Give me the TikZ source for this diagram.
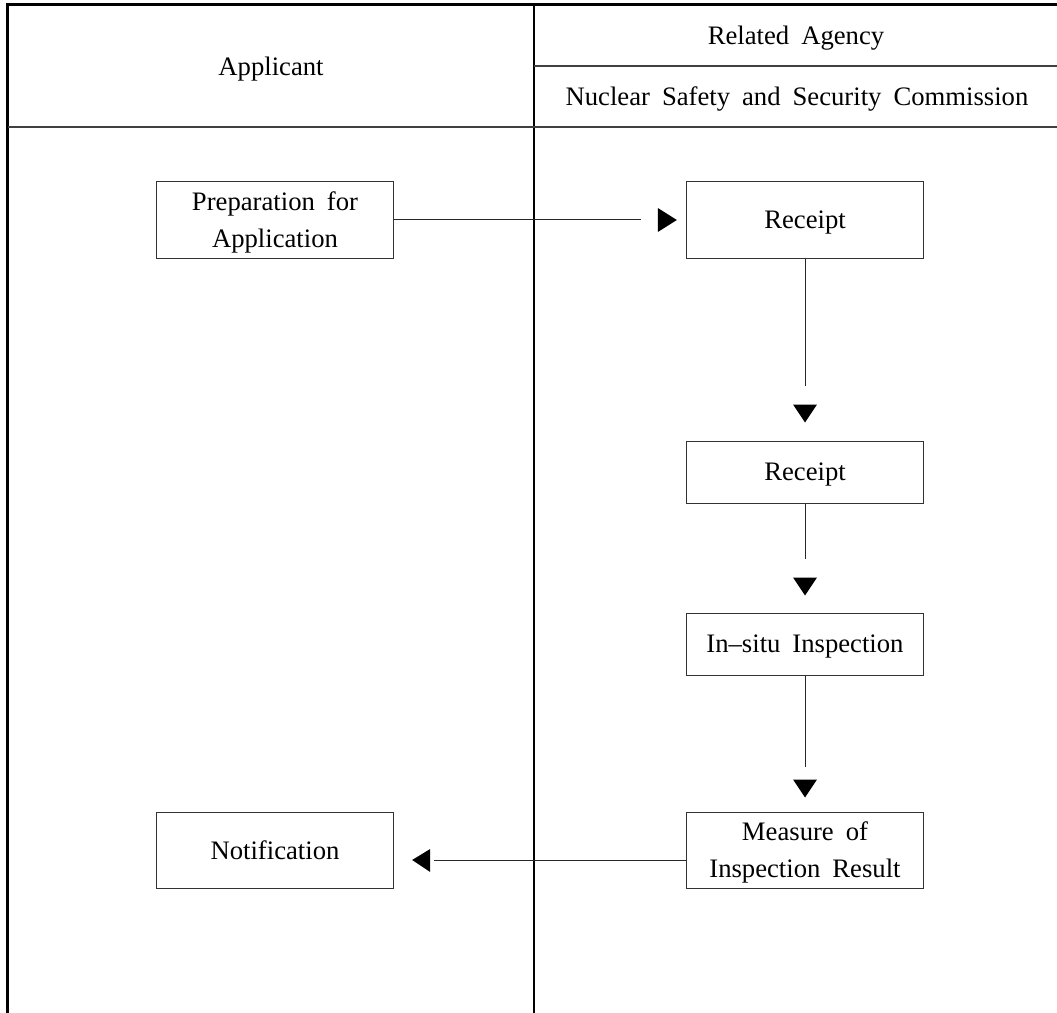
\documentclass[tikz,border=0pt]{standalone}
\usepackage{fontspec}
\setmainfont{Liberation Serif}
\usetikzlibrary{calc}
\newcommand\flowfont{\fontsize{20}{27.75}\selectfont\spaceskip=0.45em plus 0.1em\relax}
\begin{document}
\begin{tikzpicture}[x=0.75pt,y=-0.75pt,
  stepbox/.style={draw=black!80, line width=0.75pt, align=center, inner sep=0pt,
    font=\flowfont, text depth=0pt},
  wide/.style={minimum width=178pt},
  tall/.style={minimum height=57pt},
  short/.style={minimum height=46.5pt},
  rule/.style={line width=0.8pt, draw=black!75},
  frame/.style={line width=2.25pt},
  flow/.style={line width=0.75pt, draw=black!85},
  label/.style={font=\flowfont, inner sep=0pt}]
\useasboundingbox (0,0) rectangle (1057,1013);

% outer frame and swimlane rules
\draw[frame] (7.5,1013) -- (7.5,4.5) -- (1057,4.5);
\draw[line width=1pt] (534,4.5) -- (534,1013);
\draw[rule] (534,66) -- (1057,66);
\draw[rule] (7.5,127) -- (1057,127);

% lane headings
\node[label] (hApp) at (271,69) {Applicant};
\node[label] (hRel) at (796,38) {Related Agency};
\node[label] (hNss) at (797,99) {Nuclear Safety and Security Commission};

% process steps
\node[stepbox, wide, tall] (prep) at (275,220) {Preparation for\\Application};
\node[stepbox, wide, tall] (rc1) at (805,220) {Receipt};
\node[stepbox, wide, short] (rc2) at (805,472) {Receipt};
\node[stepbox, wide, short] (insp) at (805,644) {In–situ Inspection};
\node[stepbox, wide, tall] (meas) at (805,850) {Measure of\\Inspection Result};
\node[stepbox, wide, tall] (noti) at (275,850) {Notification};

% connectors: a line, a gap, then a solid triangle head
\draw[flow] (prep.east) -- ($(rc1.west)+(-45,0)$);
\fill ($(rc1.west)+(-28,-12)$) -- ++(19,12) -- ++(-19,12) -- cycle;

\draw[flow] (rc1.south) -- ($(rc2.north)+(0,-55)$);
\fill ($(rc2.north)+(-12,-36)$) -- ++(24,0) -- ++(-12,18) -- cycle;

\draw[flow] (rc2.south) -- ($(insp.north)+(0,-54)$);
\fill ($(insp.north)+(-12,-35)$) -- ++(24,0) -- ++(-12,18) -- cycle;

\draw[flow] (insp.south) -- ($(meas.north)+(0,-45)$);
\fill ($(meas.north)+(-12,-32)$) -- ++(24,0) -- ++(-12,18) -- cycle;

\draw[flow] ($(meas.west)+(0,10)$) -- ($(noti.east)+(40,10)$);
\fill ($(noti.east)+(36,-1)$) -- ++(-18,11) -- ++(18,12) -- cycle;
\end{tikzpicture}
\end{document}
